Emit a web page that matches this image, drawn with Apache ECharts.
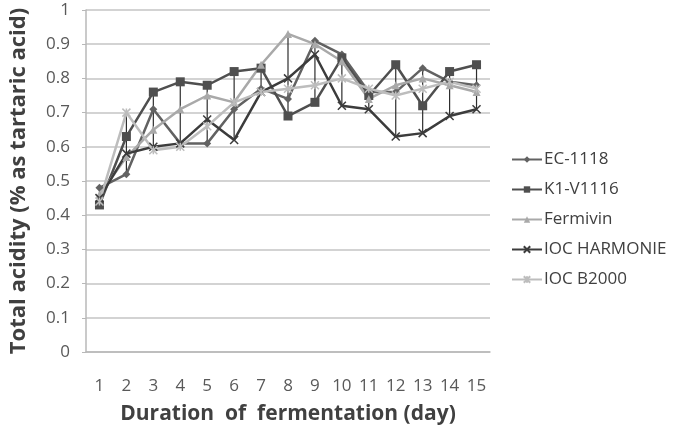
<!DOCTYPE html>
<html>
<head>
<meta charset="utf-8">
<script src="https://cdn.jsdelivr.net/npm/echarts@6/dist/echarts.min.js"></script>
<style>
  html, body { margin: 0; padding: 0; background: #fff; }
  #chart { width: 674px; height: 430px; }
</style>
</head>
<body>
<div id="chart"></div>
<script>
// days of fermentation
const days = ["1", "2", "3", "4", "5", "6", "7", "8", "9", "10", "11", "12", "13", "14", "15"];

// total acidity
const ec1118 = [0.48, 0.52, 0.71, 0.61, 0.61, 0.71, 0.77, 0.74, 0.91, 0.87, 0.76, 0.76, 0.83, 0.79, 0.78];
const k1v1116 = [0.43, 0.63, 0.76, 0.79, 0.78, 0.82, 0.83, 0.69, 0.73, 0.86, 0.75, 0.84, 0.72, 0.82, 0.84];
const fermivin = [0.46, 0.57, 0.65, 0.71, 0.75, 0.73, 0.84, 0.93, 0.90, 0.85, 0.74, 0.78, 0.80, 0.78, 0.76];
const harmonie = [0.45, 0.58, 0.60, 0.61, 0.68, 0.62, 0.76, 0.80, 0.87, 0.72, 0.71, 0.63, 0.64, 0.69, 0.71];
const b2000 = [0.44, 0.70, 0.59, 0.60, 0.66, 0.73, 0.76, 0.77, 0.78, 0.80, 0.77, 0.75, 0.77, 0.79, 0.77];

const yTicks = [0, 0.1, 0.2, 0.3, 0.4, 0.5, 0.6, 0.7, 0.8, 0.9, 1];

const font = "'Open Sans', 'Noto Sans', sans-serif";
const crossPath = "path://M0,0L10,10M10,0L0,10";
const starPath = "path://M0,0L10,10M10,0L0,10M5,0L5,10";

const allSeries = [ec1118, k1v1116, fermivin, harmonie, b2000];
// high-low lines: lowest and highest value of each day
const lows = days.map((d, i) => Math.min(...allSeries.map(s => s[i])));
const spans = days.map((d, i) => +(Math.max(...allSeries.map(s => s[i])) - lows[i]).toFixed(3));

function lineSeries(name, data, color, symbol, size, stroke) {
  return {
    name: name,
    type: "line",
    data: data,
    symbol: symbol,
    symbolSize: size,
    z: 3,
    lineStyle: { color: color, width: 2.5 },
    itemStyle: stroke
      ? { color: color, borderColor: color, borderWidth: 1.5 }
      : { color: color, borderWidth: 0 }
  };
}

let chart = echarts.init(document.getElementById("chart"));
chart.setOption({
  animation: false,
  backgroundColor: "#fff",
  grid: { left: 80, right: 184, top: 10, bottom: 78 },
  legend: {
    orient: "vertical",
    left: 506,
    top: 146,
    itemGap: 13,
    itemWidth: 30,
    itemHeight: 8,
    data: ["EC-1118", "K1-V1116", "Fermivin", "IOC HARMONIE", "IOC B2000"],
    textStyle: { fontFamily: font, fontSize: 17, color: "#404040", padding: [0, 0, 0, -3] }
  },
  xAxis: {
    type: "category",
    data: days,
    name: "Duration  of  fermentation (day)",
    nameLocation: "middle",
    nameGap: 52,
    nameTextStyle: { fontFamily: font, fontSize: 21, fontWeight: "bold", color: "#404040" },
    axisLine: { lineStyle: { color: "#b8b8b8", width: 1.5 } },
    axisTick: { show: false },
    axisLabel: { margin: 26, fontFamily: font, fontSize: 17, color: "#595959" }
  },
  yAxis: {
    type: "value",
    min: 0,
    max: 1,
    interval: 0.1,
    name: "Total acidity (% as tartaric acid)",
    nameLocation: "middle",
    nameGap: 56,
    nameTextStyle: { fontFamily: font, fontSize: 22, fontWeight: "bold", color: "#404040" },
    axisLine: { show: true, lineStyle: { color: "#b8b8b8", width: 1.5 } },
    axisTick: { show: true, length: 4, lineStyle: { color: "#b8b8b8" } },
    axisLabel: {
      margin: 16,
      fontFamily: font,
      fontSize: 17,
      color: "#595959",
      formatter: v => String(yTicks.find(t => Math.abs(t - v) < 1e-6) ?? v)
    },
    splitLine: { lineStyle: { color: "#c4c4c4", width: 1.5 } }
  },
  series: [
    {
      name: "low",
      type: "bar",
      stack: "hl",
      data: lows,
      barWidth: 1.2,
      itemStyle: { color: "transparent" },
      silent: true,
      z: 1
    },
    {
      name: "highlow",
      type: "bar",
      stack: "hl",
      data: spans,
      barWidth: 1.2,
      itemStyle: { color: "#2e2e2e" },
      silent: true,
      z: 1
    },
    lineSeries("EC-1118", ec1118, "#626262", "diamond", 8, false),
    lineSeries("K1-V1116", k1v1116, "#4f4f4f", "rect", 9, false),
    lineSeries("Fermivin", fermivin, "#a9a9a9", "triangle", 8, false),
    lineSeries("IOC HARMONIE", harmonie, "#3c3c3c", crossPath, 8, true),
    lineSeries("IOC B2000", b2000, "#bdbdbd", starPath, 8, true)
  ]
});
</script>
</body>
</html>
